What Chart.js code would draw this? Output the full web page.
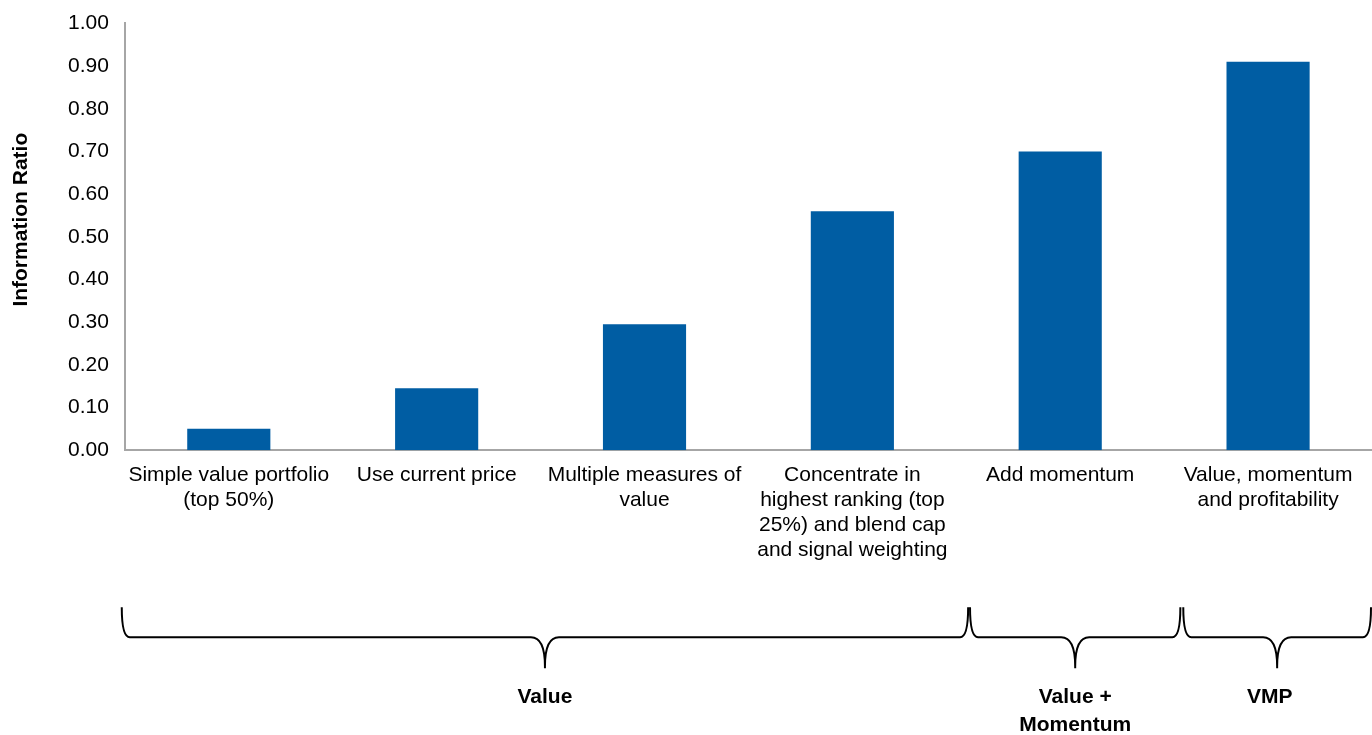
<!DOCTYPE html>
<html>
<head>
<meta charset="utf-8">
<script src="https://cdn.jsdelivr.net/npm/chart.js@4.4.1/dist/chart.umd.min.js"></script>
<style>
  html, body { margin: 0; padding: 0; background: #fff; }
  #wrap { width: 1372px; height: 735px; }
</style>
</head>
<body>
<div id="wrap"><canvas id="IRChart"></canvas></div>
<script>
var categories = [
  ['Simple value portfolio', '(top 50%)'],
  ['Use current price'],
  ['Multiple measures of', 'value'],
  ['Concentrate in', 'highest ranking (top', '25%) and blend cap', 'and signal weighting'],
  ['Add momentum'],
  ['Value, momentum', 'and profitability']
];
var infoRatio = [0.05, 0.145, 0.295, 0.56, 0.70, 0.91];
var yTitle = 'Information Ratio';

// groups below the axis, in category index units (start, end)
var groupNames = [['Value'], ['Value +', 'Momentum'], ['VMP']];
var groupStart = [-0.515, 3.566, 4.592];
var groupEnd = [3.557, 4.578, 5.5];

var barColor = '#005DA3';
var axisColor = '#A6A6A6';
var fontName = '"Liberation Sans", Arial, sans-serif';

function drawBrace(ctx, x0, x1, yTop, yMid, yTip) {
  var xm = (x0 + x1) / 2;
  ctx.beginPath();
  ctx.moveTo(x0, yTop);
  ctx.quadraticCurveTo(x0, yMid, x0 + 8, yMid);
  ctx.lineTo(xm - 14, yMid);
  ctx.quadraticCurveTo(xm, yMid, xm, yTip - 2);
  ctx.lineTo(xm, yTip);
  ctx.moveTo(xm, yTip - 2);
  ctx.quadraticCurveTo(xm, yMid, xm + 14, yMid);
  ctx.lineTo(x1 - 8, yMid);
  ctx.quadraticCurveTo(x1, yMid, x1, yTop);
  ctx.stroke();
}

var bracePlugin = {
  id: 'groupBraces',
  afterDraw: function (chart) {
    var ctx = chart.ctx;
    var xs = chart.scales.x;
    var area = chart.chartArea;
    var bottom = area.bottom;
    ctx.save();
    ctx.strokeStyle = '#000';
    ctx.lineWidth = 2;
    ctx.fillStyle = '#000';
    ctx.font = 'bold 21px ' + fontName;
    ctx.textAlign = 'center';
    ctx.textBaseline = 'middle';
    for (var i = 0; i < groupNames.length; i++) {
      var x0 = xs.getPixelForValue(groupStart[i]);
      var x1 = Math.min(xs.getPixelForValue(groupEnd[i]), chart.width - 1);
      drawBrace(ctx, x0, x1, bottom + 157, bottom + 187, bottom + 218);
      var xm = (xs.getPixelForValue(groupStart[i]) + xs.getPixelForValue(groupEnd[i])) / 2;
      if (i === 2) xm = (x0 + xs.getPixelForValue(groupEnd[i])) / 2 - 8;
      for (var j = 0; j < groupNames[i].length; j++) {
        ctx.fillText(groupNames[i][j], xm, bottom + 247 + j * 28);
      }
    }
    // y axis title, sits a little above the middle of the axis like the original
    ctx.translate(21, area.top + (area.bottom - area.top) * 0.46);
    ctx.rotate(-Math.PI / 2);
    ctx.fillText(yTitle, 0, 0);
    ctx.restore();
  }
};

var config = {
  type: 'bar',
  data: {
    labels: categories,
    datasets: [{
      label: yTitle,
      data: infoRatio,
      backgroundColor: barColor,
      barPercentage: 0.4,
      categoryPercentage: 1.0
    }]
  },
  options: {
    responsive: true,
    maintainAspectRatio: false,
    animation: false,
    layout: { padding: { top: 3, right: 0, bottom: 160, left: 52 } },
    plugins: {
      legend: { display: false },
      tooltip: { enabled: false }
    },
    scales: {
      x: {
        grid: { display: false, drawTicks: false },
        border: { color: axisColor, width: 2 },
        ticks: {
          color: '#000',
          font: { family: fontName, size: 21, lineHeight: 1.2 },
          padding: 12,
          maxRotation: 0,
          autoSkip: false
        }
      },
      y: {
        min: 0,
        max: 1,
        grid: { display: false, drawTicks: false },
        border: { color: axisColor, width: 2 },
        ticks: {
          stepSize: 0.1,
          color: '#000',
          padding: 16,
          font: { family: fontName, size: 21, lineHeight: 0.7 },
          callback: function (v) { return Number(v).toFixed(2); }
        }
      }
    }
  },
  plugins: [bracePlugin]
};

var ctx = document.getElementById('IRChart').getContext('2d');
window.irChart = new Chart(ctx, config);
</script>
</body>
</html>
